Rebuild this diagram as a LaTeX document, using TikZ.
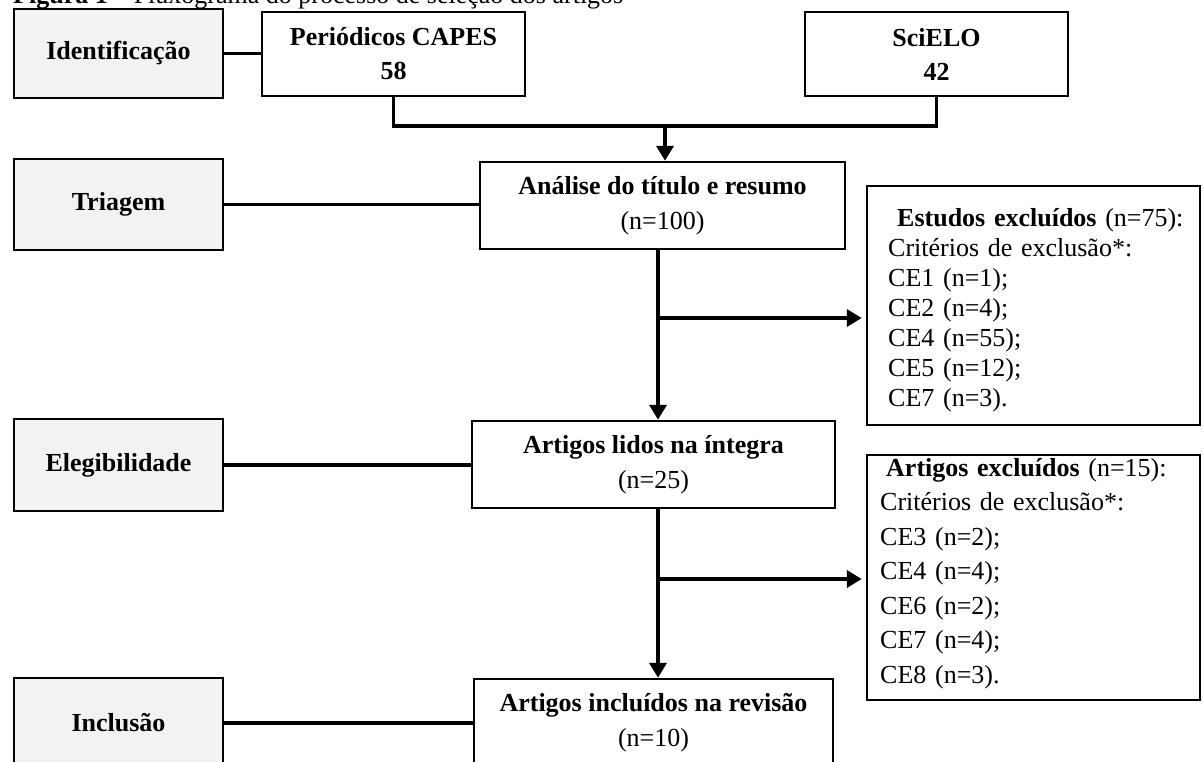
\documentclass[tikz,border=0pt]{standalone}
\usepackage{fontspec}
\setmainfont{Liberation Serif}
\usetikzlibrary{arrows.meta}
\definecolor{labelgray}{HTML}{F2F2F2}
\begin{document}
\begin{tikzpicture}[x=1pt,y=-1pt,
  every node/.style={font=\fontsize{26}{30}\selectfont, inner sep=0pt},
  stagebox/.style={draw=black, line width=2.5pt, fill=labelgray, minimum width=209pt, font=\fontsize{26}{30}\selectfont\bfseries},
  flowbox/.style={draw=black, line width=2.5pt, fill=white, align=center, minimum height=87pt, font=\fontsize{26}{35}\selectfont},
  srcbox/.style={draw=black, line width=2.5pt, fill=white, align=center, minimum width=263pt, minimum height=84pt, font=\fontsize{26}{34}\selectfont\bfseries},
  exclbox/.style={draw=black, line width=2.5pt, fill=white, minimum width=333pt},
  excltext/.style={anchor=base west, align=left, text width=310pt},
  conn/.style={line width=3.5pt},
  arr/.style={line width=4.5pt, -{Triangle[length=15pt,width=17pt]}},
]
\useasboundingbox (0,0) rectangle (1203,761);

% caption (cut by the page top)
\node[anchor=base west] (cap) at (13,3) {\textbf{Figura 1} – Fluxograma do processo de seleção dos artigos};

% stage labels
\node[stagebox, minimum height=89pt] (ident) at (118.5,53.5) {Identificação};
\node[stagebox, minimum height=91pt] (triagem) at (118.5,204.5) {Triagem};
\node[stagebox, minimum height=92pt] (elegib) at (118.5,465) {Elegibilidade};
\node[stagebox, minimum height=90pt] (inclusao) at (118.5,723) {Inclusão};

% sources
\node[srcbox] (capes) at (393.5,54) {Periódicos CAPES\\58};
\node[srcbox] (scielo) at (936.5,54) {SciELO\\42};

% flow boxes
\node[flowbox, minimum width=365pt] (analise) at (662.5,205.5) {\textbf{Análise do título e resumo}\\(n=100)};
\node[flowbox, minimum width=363pt] (lidos) at (653.5,464.5) {\textbf{Artigos lidos na íntegra}\\(n=25)};
\node[flowbox, minimum width=359pt] (incluidos) at (653.5,722.5) {\textbf{Artigos incluídos na revisão}\\(n=10)};

% exclusion boxes
\node[exclbox, minimum height=239pt] (estudos) at (1033.5,305.5) {};
\node[excltext, font=\fontsize{26}{30}\selectfont] (estudostxt) at (888,226) {\hspace*{9pt}\textbf{Estudos excluídos} (n=75):\\Critérios de exclusão*:\\CE1 (n=1);\\CE2 (n=4);\\CE4 (n=55);\\CE5 (n=12);\\CE7 (n=3).};
\node[exclbox, minimum height=245pt] (artexc) at (1033.5,577.5) {};
\node[excltext, font=\fontsize{26}{34.5}\selectfont] (artexctxt) at (880,476) {\hspace*{6pt}\textbf{Artigos excluídos} (n=15):\\Critérios de exclusão*:\\CE3 (n=2);\\CE4 (n=4);\\CE6 (n=2);\\CE7 (n=4);\\CE8 (n=3).};

% stage connectors
\draw[conn] (ident.east) -- (ident.east -| capes.west);
\draw[conn] (triagem.east) -- (triagem.east -| analise.west);
\draw[conn] (elegib.east) -- (elegib.east -| lidos.west);
\draw[conn] (inclusao.east) -- (inclusao.east -| incluidos.west);

% merge of sources
\coordinate (merge) at (665,126);
\draw[conn] (capes.south) |- (merge) -| (scielo.south);
\draw[arr] (merge) -- (merge |- analise.north);

% main flow
\coordinate (b1) at (658,318);
\coordinate (b2) at (658,579);
\draw[arr] (analise.south -| b1) -- (lidos.north -| b1);
\draw[arr, shorten >=4pt] (b1) -- (b1 -| estudos.west);
\draw[arr] (lidos.south -| b2) -- (incluidos.north -| b2);
\draw[arr, shorten >=4pt] (b2) -- (b2 -| artexc.west);
\end{tikzpicture}
\end{document}
